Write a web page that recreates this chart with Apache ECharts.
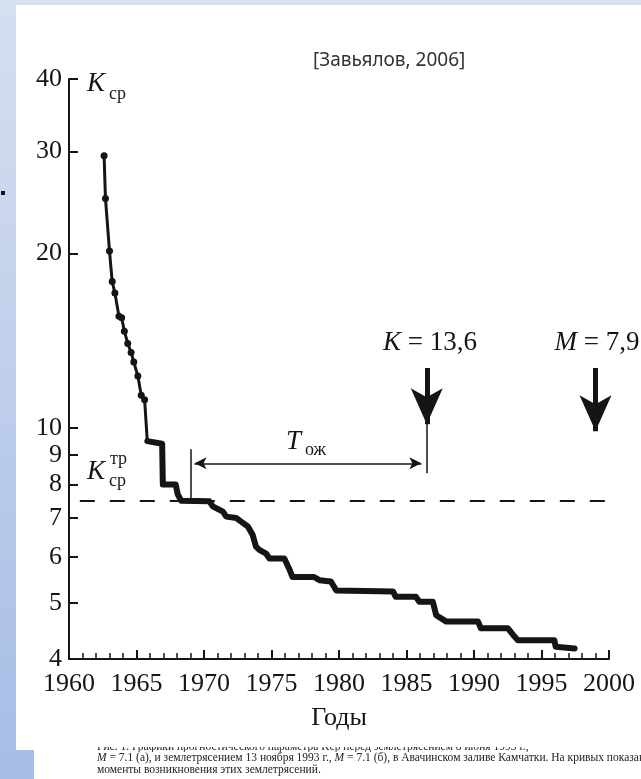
<!DOCTYPE html>
<html>
<head>
<meta charset="utf-8">
<title>Kср</title>
<script src="https://cdn.jsdelivr.net/npm/echarts@6/dist/echarts.min.js"></script>
<style>
  html, body { margin: 0; padding: 0; background: #fff; }
  #wrap { position: relative; width: 641px; height: 779px; overflow: hidden; background: #fff; }
  .band-top { position: absolute; left: 0; top: 0; width: 641px; height: 5px; background: #d7e0f1; }
  .band-left { position: absolute; left: 0; top: 0; width: 16px; height: 750px; background: linear-gradient(#d6dff0, #a8bee6); }
  .band-low { position: absolute; left: 0; top: 750px; width: 34px; height: 29px; background: #a7bde6; }
  .bullet { position: absolute; left: 1px; top: 191px; width: 4px; height: 4px; background: #111; }
  #chart { position: absolute; left: 0; top: 0; width: 641px; height: 779px; }
  .caption { position: absolute; left: 97px; top: 747px; font: 11.5px/11.5px "Liberation Serif", serif; color: #222; white-space: nowrap; }
  .caption .cut { height: 5px; overflow: hidden; }
  .caption .cut span { position: relative; top: -6px; }
</style>
</head>
<body>
<div id="wrap">
  <div class="band-top"></div>
  <div class="band-left"></div>
  <div class="band-low"></div>
  <div class="bullet"></div>
  <div id="chart"></div>
  <div class="caption">
    <div class="cut"><span>Рис. 1. Графики прогностического параметра Kср перед землетрясением 8 июня 1993 г.,</span></div>
    <i>M</i> = 7.1 (а), и землетрясением 13 ноября 1993 г., <i>M</i> = 7.1 (б), в Авачинском заливе Камчатки. На кривых показан<br>
    моменты возникновения этих землетрясений.
  </div>
</div>
<script>
// годы и значения Kср (вершины ступенчатой кривой)
const years = [1962.6, 1962.7, 1963.0, 1963.2, 1963.4, 1963.7, 1963.9, 1964.1, 1964.35, 1964.6,
  1964.8, 1965.1, 1965.35, 1965.6, 1965.8, 1966.9, 1966.95, 1967.9, 1968.05, 1968.3,
  1970.4, 1970.65, 1971.4, 1971.65, 1972.4, 1972.75, 1973.25, 1973.6, 1973.85, 1974.1,
  1974.6, 1974.85, 1975.95, 1976.3, 1976.55, 1978.15, 1978.55, 1979.4, 1979.8, 1984.0,
  1984.2, 1985.7, 1985.95, 1986.95, 1987.2, 1987.95, 1990.3, 1990.5, 1992.5, 1992.9,
  1993.25, 1995.95, 1996.05, 1997.45]
const kcp = [29.5, 24.9, 20.2, 17.9, 17.1, 15.6, 15.5, 14.7, 14.0, 13.5,
  13.0, 12.3, 11.4, 11.2, 9.5, 9.4, 8.0, 8.0, 7.7, 7.5,
  7.48, 7.33, 7.18, 7.04, 7.0, 6.9, 6.77, 6.55, 6.25, 6.17,
  6.08, 5.96, 5.96, 5.73, 5.54, 5.54, 5.47, 5.44, 5.25, 5.23,
  5.12, 5.12, 5.02, 5.02, 4.76, 4.64, 4.64, 4.52, 4.52, 4.40,
  4.31, 4.31, 4.20, 4.17]
// первые точки нарисованы кружками
const dotCount = 14

const yTicks = [4, 5, 6, 7, 8, 9, 10, 20, 30, 40]

// пороговый уровень Kср^тр и его протяжённость
const kThreshold = 7.5
const thresholdYears = [1960.8, 2000]

// Тож: от пересечения порога до K = 13,6
const waitYears = [1969.0, 1986.5]
const waitLevel = 8.7
const waitArrowYears = [1969.3, 1986.1]
const leftMarkRange = [9.2, 7.55]
const rightMarkRange = [12.7, 8.36]

// стрелки событий
const eventYears = [1986.5, 1999.0]
const eventTop = 12.7
const eventTips = [10.16, 9.88]

const serif = 'Liberation Serif'
const ink = '#151515'

const chart = echarts.init(document.getElementById('chart'))

const pts = years.map((y, i) => [y, kcp[i]])

function vline(x, y0, y1) {
  return [{coord: [x, y0]}, {coord: [x, y1]}]
}

const option = {
  animation: false,
  grid: {left: 69, right: 32, top: 79, bottom: 120},
  xAxis: {
    type: 'value',
    min: 1960,
    max: 2000,
    interval: 5,
    axisLine: {lineStyle: {color: ink, width: 2}},
    axisTick: {inside: true, length: 9, lineStyle: {color: ink, width: 2}},
    minorTick: {show: true, splitNumber: 5, length: 6, lineStyle: {color: ink, width: 1.5}},
    splitLine: {show: false},
    axisLabel: {
      fontFamily: serif, fontSize: 26, color: ink, margin: 12,
      formatter: v => String(v)
    },
    name: 'Годы',
    nameLocation: 'middle',
    nameGap: 46,
    nameTextStyle: {fontFamily: serif, fontSize: 26, color: ink}
  },
  yAxis: {
    type: 'log',
    logBase: 10,
    min: 4,
    max: 40,
    axisLine: {show: true, lineStyle: {color: ink, width: 2}},
    axisTick: {show: true, inside: true, length: 9, customValues: yTicks, lineStyle: {color: ink, width: 2}},
    splitLine: {show: false},
    axisLabel: {
      customValues: yTicks,
      fontFamily: serif, fontSize: 26, color: ink, margin: 7
    }
  },
  series: [
    {
      // начальный участок с точками
      type: 'line',
      data: pts.slice(0, dotCount + 1),
      lineStyle: {color: ink, width: 3},
      symbol: 'circle',
      symbolSize: (v, p) => p.dataIndex < dotCount ? 7 : 0,
      itemStyle: {color: ink},
      silent: true
    },
    {
      // ступенчатый участок
      type: 'line',
      data: pts.slice(dotCount),
      showSymbol: false,
      lineStyle: {color: ink, width: 6, join: 'round', cap: 'round'},
      silent: true,
      markLine: {
        silent: true,
        symbol: 'none',
        label: {show: false},
        lineStyle: {color: ink, width: 1.5, type: 'solid'},
        data: [
          // Kср^тр
          [
            {coord: [thresholdYears[0], kThreshold], lineStyle: {type: [15, 15], width: 2}},
            {coord: [thresholdYears[1], kThreshold]}
          ],
          vline(waitYears[0], leftMarkRange[0], leftMarkRange[1]),
          vline(waitYears[1], rightMarkRange[0], rightMarkRange[1]),
          // двойная стрелка Тож
          [
            {coord: [waitArrowYears[0], waitLevel], symbol: 'arrow', symbolSize: [9, 12]},
            {coord: [waitArrowYears[1], waitLevel], symbol: 'arrow', symbolSize: [9, 12]}
          ],
          // K = 13,6
          [
            {coord: [eventYears[0], eventTop], lineStyle: {width: 5}},
            {coord: [eventYears[0], eventTips[0]], symbol: 'arrow', symbolSize: [24, 36]}
          ],
          // M = 7,9
          [
            {coord: [eventYears[1], eventTop], lineStyle: {width: 5}},
            {coord: [eventYears[1], eventTips[1]], symbol: 'arrow', symbolSize: [24, 36]}
          ]
        ]
      }
    }
  ],
  graphic: [
    {
      type: 'text', left: 313, top: 51,
      style: {text: '[Завьялов, 2006]', fontFamily: 'Noto Sans', fontSize: 19, fill: '#333'}
    },
    // Kср у оси
    {type: 'text', left: 87, top: 70, style: {text: 'K', fontFamily: serif, fontStyle: 'italic', fontSize: 27, fill: ink}},
    {type: 'text', left: 109, top: 85, style: {text: 'ср', fontFamily: serif, fontSize: 18, fill: ink}},
    // Kср^тр
    {type: 'text', left: 87, top: 458, style: {text: 'K', fontFamily: serif, fontStyle: 'italic', fontSize: 27, fill: ink}},
    {type: 'text', left: 110, top: 450, style: {text: 'тр', fontFamily: serif, fontSize: 18, fill: ink}},
    {type: 'text', left: 109, top: 472, style: {text: 'ср', fontFamily: serif, fontSize: 18, fill: ink}},
    // Тож
    {type: 'text', left: 286, top: 428, style: {text: 'T', fontFamily: serif, fontStyle: 'italic', fontSize: 27, fill: ink}},
    {type: 'text', left: 305, top: 441, style: {text: 'ож', fontFamily: serif, fontSize: 18, fill: ink}},
    // подписи стрелок
    {
      type: 'text', x: 430, y: 343,
      style: {
        text: '{i|K} = 13,6', align: 'center', verticalAlign: 'middle',
        fontFamily: serif, fontSize: 27, fill: ink,
        rich: {i: {fontFamily: serif, fontStyle: 'italic', fontSize: 27, fill: ink}}
      }
    },
    {
      type: 'text', x: 597, y: 343,
      style: {
        text: '{i|M} = 7,9', align: 'center', verticalAlign: 'middle',
        fontFamily: serif, fontSize: 27, fill: ink,
        rich: {i: {fontFamily: serif, fontStyle: 'italic', fontSize: 27, fill: ink}}
      }
    }
  ]
}

chart.setOption(option)
</script>
</body>
</html>
